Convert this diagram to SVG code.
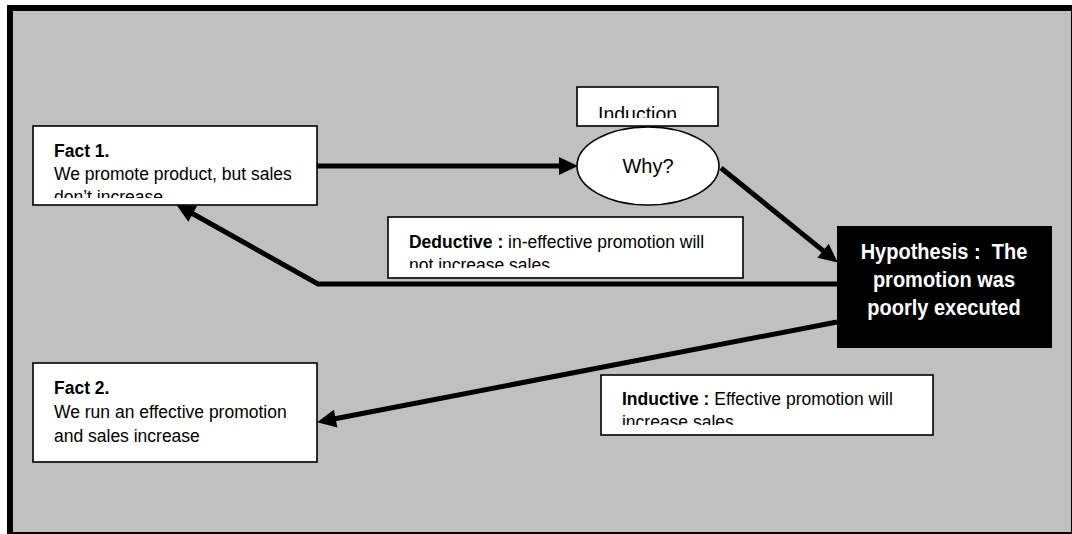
<svg xmlns="http://www.w3.org/2000/svg" width="1072" height="534" viewBox="0 0 1072 534">
  <style>
    .box { fill: #ffffff; stroke: #000000; stroke-width: 1.6; }
    .txt { font-family: "Liberation Sans", Arial, sans-serif; font-size: 17.5px; fill: #000000; }
    .b { font-weight: bold; }
    .hyp { font-family: "Liberation Sans", Arial, sans-serif; font-size: 20px; font-weight: bold; fill: #ffffff; text-anchor: middle; }
    .conn { fill: none; stroke: #000000; stroke-width: 5; stroke-linejoin: miter; }
  </style>
  <defs>
    <marker id="arrow" markerUnits="userSpaceOnUse" orient="auto" refX="0" refY="0" markerWidth="20" markerHeight="20" overflow="visible">
      <path d="M-2,-9 L17,0 L-2,9 z" fill="#000000"/>
    </marker>
    <clipPath id="clip-fact1"><rect x="34" y="127" width="282" height="71"/></clipPath>
    <clipPath id="clip-induction"><rect x="578" y="88" width="139" height="30"/></clipPath>
    <clipPath id="clip-deductive"><rect x="389" y="218" width="353" height="50"/></clipPath>
    <clipPath id="clip-inductive"><rect x="602" y="376" width="330" height="49"/></clipPath>
  </defs>

  <!-- frame and background -->
  <rect x="7" y="5" width="1065" height="529" fill="#000000"/>
  <rect x="13" y="11" width="1058" height="521" fill="#c0c0c0"/>

  <!-- connectors -->
  <g id="connectors">
    <line class="conn" x1="317" y1="166" x2="561" y2="166" marker-end="url(#arrow)"/>
    <line class="conn" x1="721" y1="168" x2="824.6" y2="251.9" marker-end="url(#arrow)"/>
    <polyline class="conn" points="837,284 318,284 191,212.8" marker-end="url(#arrow)"/>
    <line class="conn" x1="837" y1="322" x2="333.7" y2="419" marker-end="url(#arrow)"/>
  </g>

  <!-- text is stretched slightly upward from each baseline -->
  <g id="fact1">
    <rect class="box" x="33" y="126" width="284" height="79"/>
    <g clip-path="url(#clip-fact1)">
      <text class="txt b" x="54" y="157" transform="matrix(1 0 0 1.07 0 -10.99)">Fact 1.</text>
      <text class="txt" x="54" y="180" transform="matrix(1 0 0 1.07 0 -12.6)">We promote product, but sales</text>
      <text class="txt" x="54" y="203" transform="matrix(1 0 0 1.07 0 -14.21)">don’t increase</text>
    </g>
  </g>

  <g id="induction">
    <rect class="box" x="577" y="87" width="141" height="39"/>
    <g clip-path="url(#clip-induction)">
      <text class="txt" x="598" y="121" style="font-size:19.5px" transform="matrix(1 0 0 1.07 0 -8.47)">Induction</text>
    </g>
  </g>

  <g id="why">
    <ellipse cx="648" cy="166" rx="71" ry="39" fill="#ffffff" stroke="#000000" stroke-width="1.6"/>
    <text class="txt" x="648" y="173" text-anchor="middle" style="font-size:20px">Why?</text>
  </g>

  <g id="deductive">
    <rect class="box" x="388" y="217" width="355" height="61"/>
    <g clip-path="url(#clip-deductive)">
      <text class="txt" x="409" y="248" transform="matrix(1 0 0 1.07 0 -17.36)"><tspan class="b">Deductive :</tspan> in-effective promotion will</text>
      <text class="txt" x="409" y="271" transform="matrix(1 0 0 1.07 0 -18.97)">not increase sales</text>
    </g>
  </g>

  <g id="hypothesis">
    <rect x="837" y="226" width="215" height="122" fill="#000000"/>
    <text class="hyp" x="944" y="259" transform="matrix(1 0 0 1.07 0 -18.13)">Hypothesis :&#160; The</text>
    <text class="hyp" x="944" y="287" transform="matrix(1 0 0 1.07 0 -20.09)">promotion was</text>
    <text class="hyp" x="944" y="315" transform="matrix(1 0 0 1.07 0 -22.05)">poorly executed</text>
  </g>

  <g id="inductive">
    <rect class="box" x="601" y="375" width="332" height="60"/>
    <g clip-path="url(#clip-inductive)">
      <text class="txt" x="622" y="405" transform="matrix(1 0 0 1.07 0 -28.35)"><tspan class="b">Inductive :</tspan> Effective promotion will</text>
      <text class="txt" x="622" y="428" transform="matrix(1 0 0 1.07 0 -29.96)">increase sales</text>
    </g>
  </g>

  <g id="fact2">
    <rect class="box" x="33" y="363" width="284" height="99"/>
    <text class="txt b" x="54" y="394" transform="matrix(1 0 0 1.07 0 -27.58)">Fact 2.</text>
    <text class="txt" x="54" y="418" transform="matrix(1 0 0 1.07 0 -29.26)">We run an effective promotion</text>
    <text class="txt" x="54" y="442" transform="matrix(1 0 0 1.07 0 -30.94)">and sales increase</text>
  </g>
</svg>
